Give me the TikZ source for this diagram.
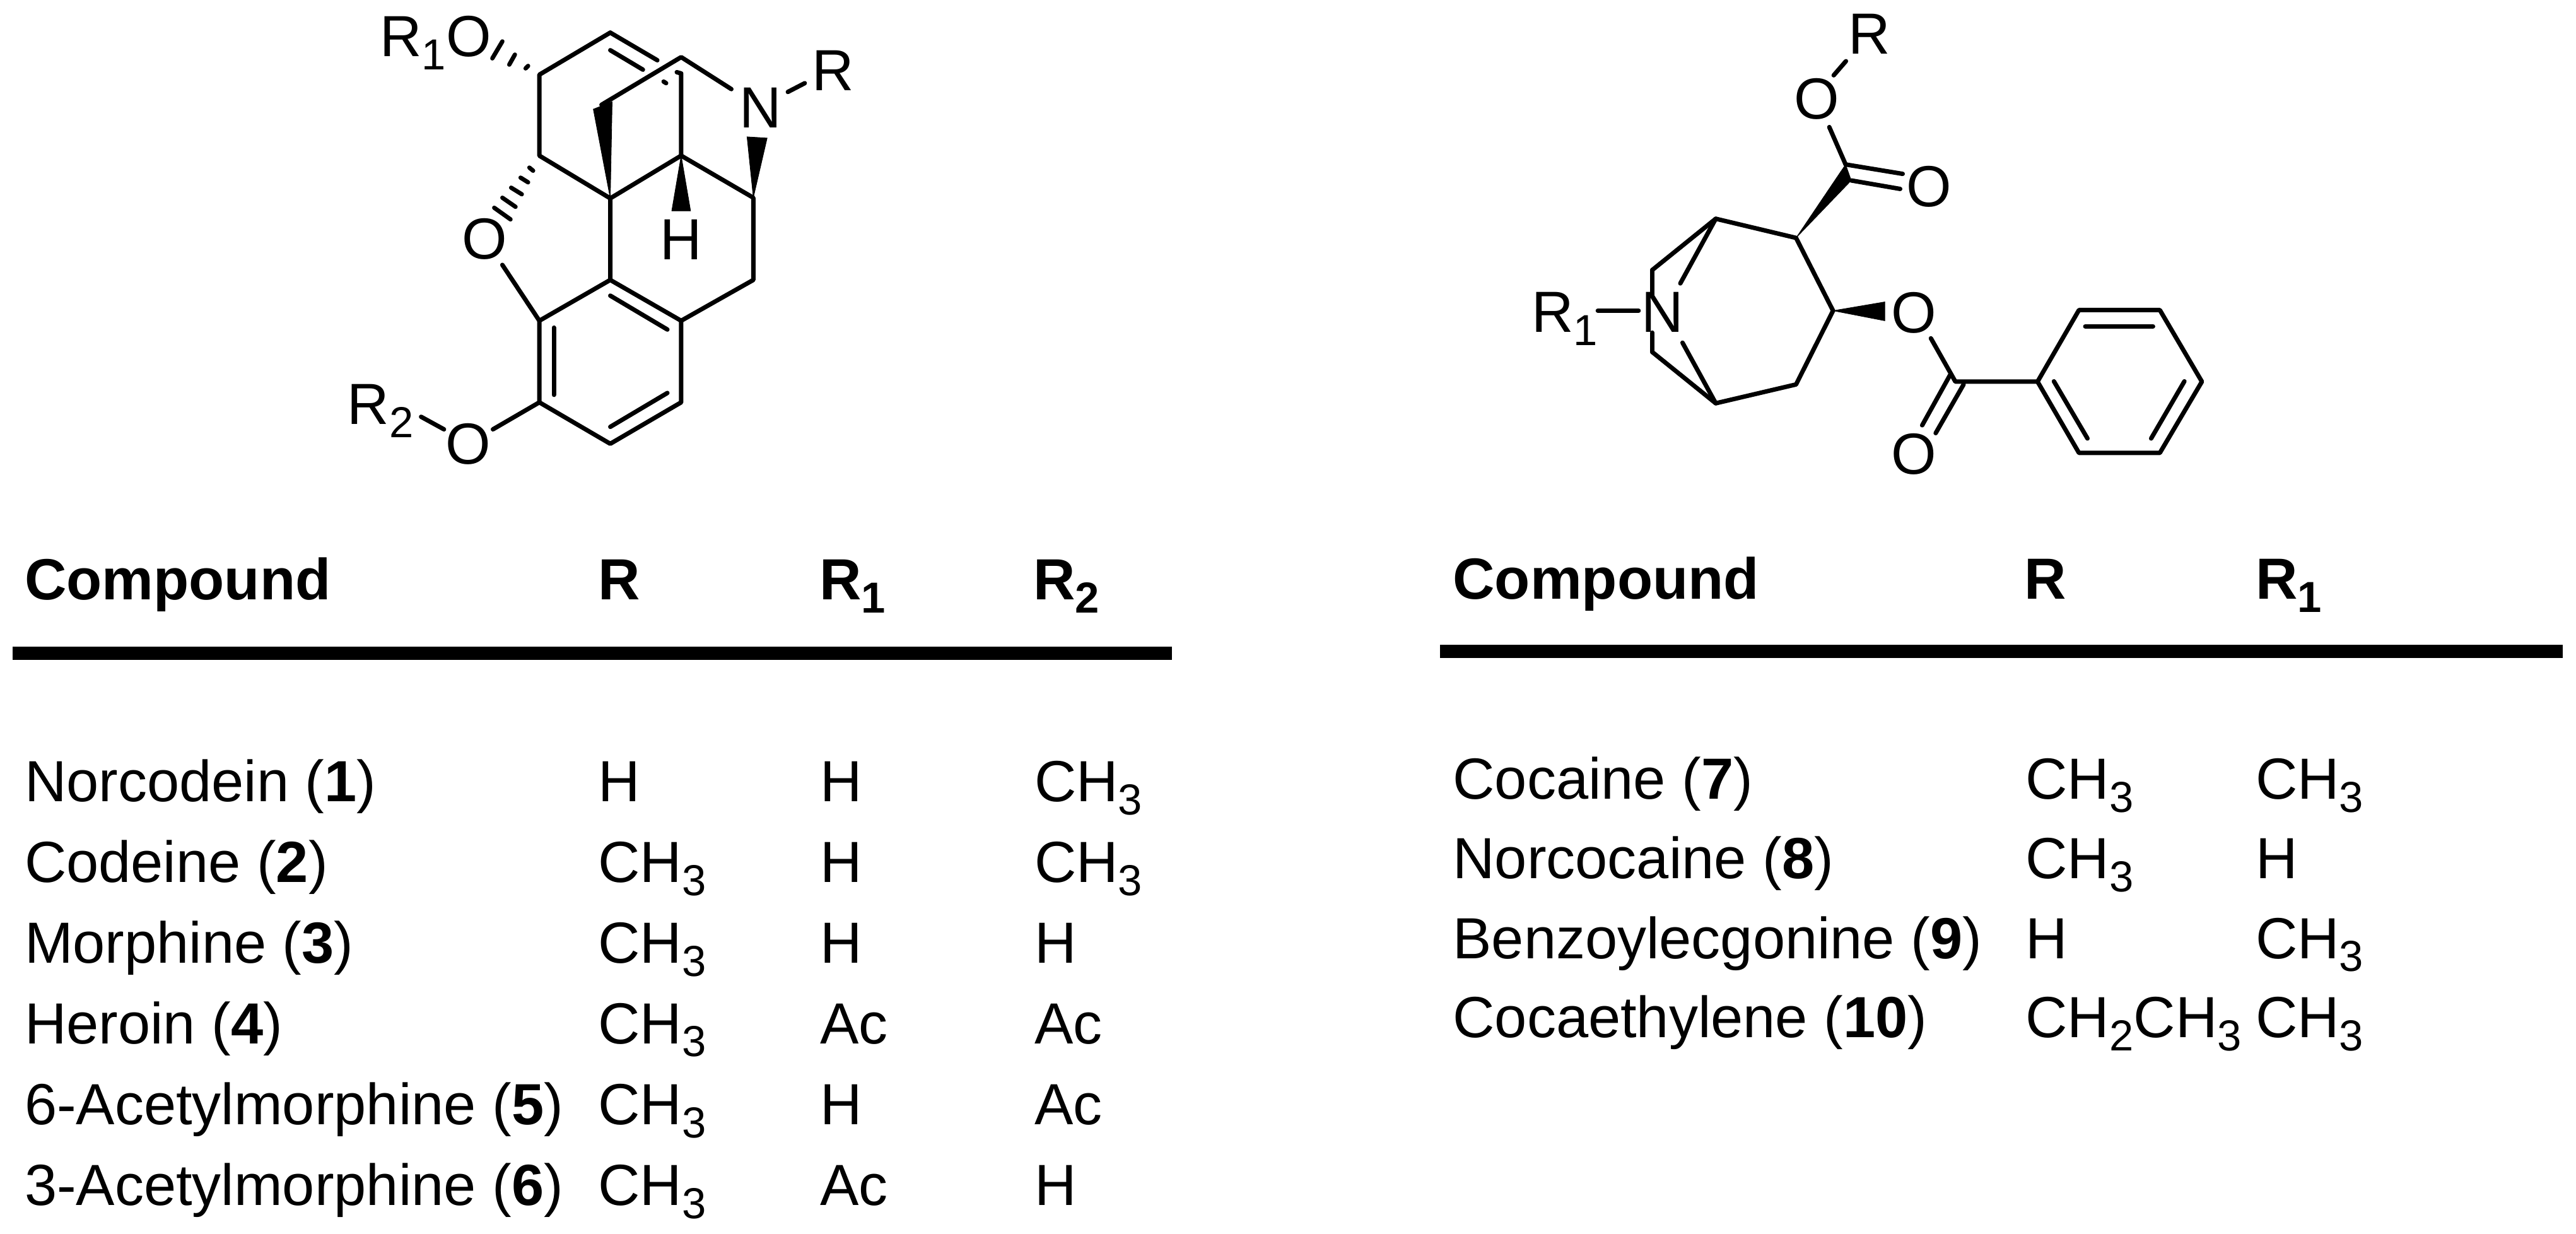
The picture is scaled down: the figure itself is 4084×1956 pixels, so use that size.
\documentclass[tikz,border=0pt]{standalone}
\usepackage{fontspec}
\setmainfont{Liberation Sans}
\newcommand{\subd}[1]{\raisebox{-5.25pt}{\fontsize{17.2}{17.2}\selectfont #1}}
\tikzset{
  x=0.25pt,y=-0.25pt,
  txt/.style={anchor=base west,inner sep=0pt,outer sep=0pt,font=\fontsize{23}{24}\selectfont},
  hd/.style={txt,font=\fontsize{23}{24}\selectfont\bfseries},
  lab/.style={anchor=base,inner sep=0pt,outer sep=0pt,font=\fontsize{23}{24}\selectfont},
  bond/.style={draw=black,line width=1.75pt,line cap=round,line join=round},
  hash/.style={draw=black,line width=1.7pt,line cap=round},
  wedge/.style={fill=black,draw=black,line width=0.2pt},
  tablerule/.style={fill=black,draw=none}
}
\begin{document}
\begin{tikzpicture}
\useasboundingbox[fill=white] (0,0) rectangle (4084,1956);
% ---------- morphine skeleton ----------
\begin{scope}[shift={(500,0)},xscale=0.9948,yscale=0.995,shift={(-500,0)}]
\coordinate (a) at (970,52);
\coordinate (b) at (857,119);
\coordinate (c) at (857,248);
\coordinate (d) at (970,316);
\coordinate (e) at (1083,248);
\coordinate (f) at (1083,117);
\coordinate (fh) at (1076,115);
\coordinate (g) at (1083,91);
\coordinate (h) at (1198,315);
\coordinate (i) at (1198,446);
\coordinate (j) at (1083,511);
\coordinate (k) at (970,446);
\coordinate (l) at (857,511);
\coordinate (m) at (857,641);
\coordinate (n) at (970,707);
\coordinate (o) at (1083,641);
\coordinate (aend) at (1045,96);
\coordinate (bridge) at (956,167);
\coordinate (wa) at (943,174);
\coordinate (wb) at (973,162);
\coordinate (ha) at (1068,336);
\coordinate (hb) at (1098,336);
\coordinate (na) at (1188,218);
\coordinate (nb) at (1220,220);
\coordinate (gN) at (1163,142);
\coordinate (Nr) at (1253,146.5);
\coordinate (rN) at (1280,132.5);
\coordinate (Ol) at (798,422);
\coordinate (Om) at (783,684);
\coordinate (Or) at (705,684);
\coordinate (ro) at (668.5,664);
\draw[bond] (a) -- (b) -- (c) -- (d) -- (e) -- (f) -- (fh);
\draw[bond] (a) -- (aend);
\draw[bond] (bridge) -- (g) -- (gN);
\draw[bond] (d) -- (k) -- (j) -- (i) -- (h) -- (e);
\draw[bond] (k) -- (l) -- (m) -- (n) -- (o) -- (j);
\draw[bond] (l) -- (Ol);
\draw[bond] (m) -- (Om);
\draw[bond] (Or) -- (ro);
\draw[bond] (Nr) -- (rN);
\draw[bond] (970,80) -- (1022,111);
\draw[bond] (1055,130) -- (1059,132.5);
\draw[bond] (970,471) -- (1061,525);
\draw[bond] (1061,626) -- (970,680);
\draw[bond] (880,522) -- (880,629);
\path[wedge] (d) -- (wa) -- (wb) -- cycle;
\path[wedge] (e) -- (ha) -- (hb) -- cycle;
\path[wedge] (h) -- (na) -- (nb) -- cycle;
\draw[hash] (835,109) -- (839,105);
\draw[hash] (809,103) -- (818,87);
\draw[hash] (782,93) -- (798,66);
\draw[hash] (841,267) -- (847,272);
\draw[hash] (827,283) -- (839,290.5);
\draw[hash] (812,299) -- (829,309.5);
\draw[hash] (798,315) -- (819,329.5);
\draw[hash] (785,331) -- (811,349.5);
\node[txt] (r1o) at (603,90) {R\subd{1}O};
\node[lab] (nN) at (1209,204) {N};
\node[txt] (nR) at (1292,144) {R};
\node[lab] (nO) at (770,413) {O};
\node[lab] (nH) at (1083,414) {H};
\node[lab] (nOl) at (743.5,739) {O};
\node[txt] (nR2) at (551,676) {R\subd{2}};
\end{scope}
% ---------- cocaine skeleton ----------
\begin{scope}[shift={(2400,0)},xscale=0.9945,yscale=0.995,shift={(-2400,0)}]
\coordinate (A) at (2722,348.5);
\coordinate (B) at (2850,379);
\coordinate (C) at (2909,495);
\coordinate (D) at (2850,612.5);
\coordinate (E) at (2722,642.5);
\coordinate (F) at (2621,430);
\coordinate (G) at (2621,561);
\coordinate (Fn) at (2621,470);
\coordinate (Gn) at (2621,530);
\coordinate (An) at (2665.5,451.5);
\coordinate (En) at (2669,546);
\coordinate (Rn) at (2534,495);
\coordinate (Nl) at (2599,495);
\coordinate (Cw1) at (2991.5,481);
\coordinate (Cw2) at (2991.5,511);
\coordinate (Oe) at (3065,539);
\coordinate (C2) at (3104,608);
\coordinate (P1) at (3235,608);
\coordinate (P2) at (3301,494);
\coordinate (P3) at (3430,494);
\coordinate (P4) at (3497,608);
\coordinate (P5) at (3430,721.5);
\coordinate (P6) at (3301,721.5);
\coordinate (C3) at (2929,262);
\coordinate (C3w) at (2938,287.5);
\coordinate (Ot) at (2903,202.5);
\coordinate (Otr) at (2910,120);
\coordinate (Rt) at (2929.5,97.5);
\coordinate (O1e) at (3020,277);
\coordinate (O2e) at (3016,301);
\draw[bond] (F) -- (A) -- (B) -- (C) -- (D) -- (E) -- (G);
\draw[bond] (F) -- (Fn);
\draw[bond] (G) -- (Gn);
\draw[bond] (A) -- (An);
\draw[bond] (E) -- (En);
\draw[bond] (Rn) -- (Nl);
\draw[bond] (Oe) -- (C2) -- (P1);
\draw[bond] (P1) -- (P2) -- (P3) -- (P4) -- (P5) -- (P6) -- cycle;
\draw[bond] (3095.4,597.5) -- (3051,677.5);
\draw[bond] (3117,612.5) -- (3072.5,690);
\draw[bond] (3311,520) -- (3419,520);
\draw[bond] (3261,607.5) -- (3314.5,698.5);
\draw[bond] (3469,607.5) -- (3416,698.5);
\draw[bond] (C3) -- (Ot);
\draw[bond] (Otr) -- (Rt);
\draw[bond] (C3) -- (O1e);
\draw[bond] (C3w) -- (O2e);
\path[wedge] (C) -- (Cw1) -- (Cw2) -- cycle;
\path[wedge] (B) -- (C3) -- (C3w) -- cycle;
\node[txt] (cR1) at (2428.5,529) {R\subd{1}};
\node[lab] (cN) at (2637.5,529) {N};
\node[txt] (cR) at (2933,86) {R};
\node[lab] (cOt) at (2883,189) {O};
\node[lab] (cOc) at (3061.5,329) {O};
\node[lab] (cOe) at (3038,530) {O};
\node[lab] (cOb) at (3038,755.5) {O};
\end{scope}
% ---------- left table ----------
\path[tablerule] (19.5,1025) rectangle (1858,1046);
\node[hd] (lh1) at (39,951) {Compound};
\node[hd] (lh2) at (948,951) {R};
\node[hd] (lh3) at (1299,951) {R\subd{1}};
\node[hd] (lh4) at (1638,951) {R\subd{2}};
\node[txt] at (39,1270.6) {Norcodein (\textbf{1})};
\node[txt] at (948.5,1270.6) {H};
\node[txt] at (1300,1270.6) {H};
\node[txt] at (1640,1270.6) {CH\subd{3}};
\node[txt] at (39,1398.8) {Codeine (\textbf{2})};
\node[txt] at (948.5,1398.8) {CH\subd{3}};
\node[txt] at (1300,1398.8) {H};
\node[txt] at (1640,1398.8) {CH\subd{3}};
\node[txt] at (39,1526.5) {Morphine (\textbf{3})};
\node[txt] at (948.5,1526.5) {CH\subd{3}};
\node[txt] at (1300,1526.5) {H};
\node[txt] at (1640,1526.5) {H};
\node[txt] at (39,1654) {Heroin (\textbf{4})};
\node[txt] at (948.5,1654) {CH\subd{3}};
\node[txt] at (1300,1654) {Ac};
\node[txt] at (1640,1654) {Ac};
\node[txt] at (39,1782) {6-Acetylmorphine (\textbf{5})};
\node[txt] at (948.5,1782) {CH\subd{3}};
\node[txt] at (1300,1782) {H};
\node[txt] at (1640,1782) {Ac};
\node[txt] at (39,1910) {3-Acetylmorphine (\textbf{6})};
\node[txt] at (948.5,1910) {CH\subd{3}};
\node[txt] at (1300,1910) {Ac};
\node[txt] at (1640,1910) {H};
% ---------- right table ----------
\path[tablerule] (2282.7,1022) rectangle (4063,1042.7);
\node[hd] (rh1) at (2303.5,949.3) {Compound};
\node[hd] (rh2) at (3209.5,949.3) {R};
\node[hd] (rh3) at (3576,949.3) {R\subd{1}};
\node[txt] at (2303.5,1266.7) {Cocaine (\textbf{7})};
\node[txt] at (3211.5,1266.7) {CH\subd{3}};
\node[txt] at (3576,1266.7) {CH\subd{3}};
\node[txt] at (2303.5,1392.8) {Norcocaine (\textbf{8})};
\node[txt] at (3211.5,1392.8) {CH\subd{3}};
\node[txt] at (3576,1392.8) {H};
\node[txt] at (2303.5,1519) {Benzoylecgonine (\textbf{9})};
\node[txt] at (3211.5,1519) {H};
\node[txt] at (3576,1519) {CH\subd{3}};
\node[txt] at (2303.5,1644.3) {Cocaethylene (\textbf{10})};
\node[txt] at (3211.5,1644.3) {CH\subd{2}CH\subd{3}};
\node[txt] at (3576,1644.3) {CH\subd{3}};
\end{tikzpicture}
\end{document}
